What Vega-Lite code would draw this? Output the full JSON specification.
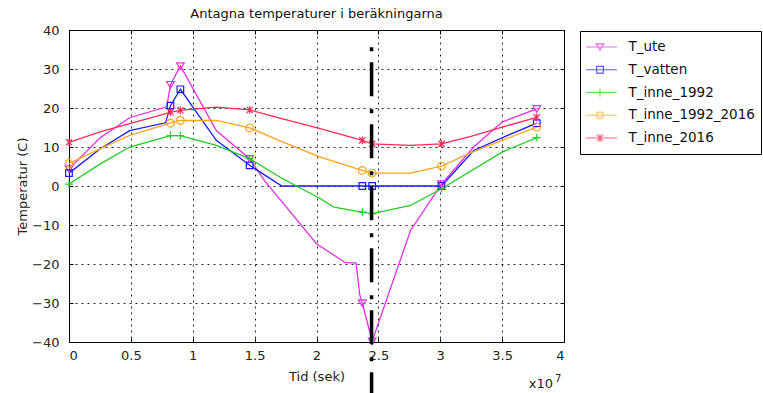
{
  "$schema": "https://vega.github.io/schema/vega-lite/v6.json",
  "width": 495,
  "height": 312,
  "autosize": {"type": "none"},
  "padding": {"left": 69, "top": 30, "right": 199, "bottom": 51},
  "title": {"text": "Antagna temperaturer i beräkningarna", "fontSize": 13, "fontWeight": "normal", "font": "DejaVu Sans", "anchor": "middle", "offset": 3, "color": "#111"},
  "config": {
    "font": "DejaVu Sans",
    "view": {"stroke": "#000", "strokeWidth": 1}
  },
  "datasets": {
    "lines": [
      {"s": "T_ute", "t": 0, "T": 4.4},
      {"s": "T_ute", "t": 2500000, "T": 12.3},
      {"s": "T_ute", "t": 4900000, "T": 17.5},
      {"s": "T_ute", "t": 7900000, "T": 20.3},
      {"s": "T_ute", "t": 8200000, "T": 26.0},
      {"s": "T_ute", "t": 9000000, "T": 30.8},
      {"s": "T_ute", "t": 11900000, "T": 14.2},
      {"s": "T_ute", "t": 14600000, "T": 7.0},
      {"s": "T_ute", "t": 15800000, "T": 1.4},
      {"s": "T_ute", "t": 20000000, "T": -14.8},
      {"s": "T_ute", "t": 22300000, "T": -19.6},
      {"s": "T_ute", "t": 23200000, "T": -19.8},
      {"s": "T_ute", "t": 23500000, "T": -28.0},
      {"s": "T_ute", "t": 23700000, "T": -30.0},
      {"s": "T_ute", "t": 24500000, "T": -39.8},
      {"s": "T_ute", "t": 27600000, "T": -11.4},
      {"s": "T_ute", "t": 30100000, "T": 0.5},
      {"s": "T_ute", "t": 32700000, "T": 10.0},
      {"s": "T_ute", "t": 35000000, "T": 16.4},
      {"s": "T_ute", "t": 37800000, "T": 19.8},

      {"s": "T_vatten", "t": 0, "T": 3.3},
      {"s": "T_vatten", "t": 2500000, "T": 9.5},
      {"s": "T_vatten", "t": 4900000, "T": 14.2},
      {"s": "T_vatten", "t": 7800000, "T": 16.2},
      {"s": "T_vatten", "t": 8200000, "T": 20.6},
      {"s": "T_vatten", "t": 9000000, "T": 24.8},
      {"s": "T_vatten", "t": 11900000, "T": 11.7},
      {"s": "T_vatten", "t": 14600000, "T": 5.3},
      {"s": "T_vatten", "t": 17200000, "T": 0},
      {"s": "T_vatten", "t": 23700000, "T": 0},
      {"s": "T_vatten", "t": 24500000, "T": 0},
      {"s": "T_vatten", "t": 30100000, "T": 0},
      {"s": "T_vatten", "t": 32700000, "T": 9.1},
      {"s": "T_vatten", "t": 35400000, "T": 12.9},
      {"s": "T_vatten", "t": 37800000, "T": 16.1},

      {"s": "T_inne_1992", "t": 0, "T": 0.5},
      {"s": "T_inne_1992", "t": 2500000, "T": 5.6},
      {"s": "T_inne_1992", "t": 4900000, "T": 10.0},
      {"s": "T_inne_1992", "t": 8200000, "T": 12.9},
      {"s": "T_inne_1992", "t": 9000000, "T": 12.9},
      {"s": "T_inne_1992", "t": 11900000, "T": 10.4},
      {"s": "T_inne_1992", "t": 14600000, "T": 7.0},
      {"s": "T_inne_1992", "t": 17200000, "T": 2.0},
      {"s": "T_inne_1992", "t": 20300000, "T": -3.2},
      {"s": "T_inne_1992", "t": 21400000, "T": -5.4},
      {"s": "T_inne_1992", "t": 23700000, "T": -6.7},
      {"s": "T_inne_1992", "t": 24500000, "T": -7.1},
      {"s": "T_inne_1992", "t": 27600000, "T": -5.0},
      {"s": "T_inne_1992", "t": 30100000, "T": -0.7},
      {"s": "T_inne_1992", "t": 35000000, "T": 8.7},
      {"s": "T_inne_1992", "t": 37800000, "T": 12.4},

      {"s": "T_inne_1992_2016", "t": 0, "T": 5.8},
      {"s": "T_inne_1992_2016", "t": 2500000, "T": 9.5},
      {"s": "T_inne_1992_2016", "t": 4900000, "T": 13.0},
      {"s": "T_inne_1992_2016", "t": 8200000, "T": 16.1},
      {"s": "T_inne_1992_2016", "t": 9000000, "T": 16.8},
      {"s": "T_inne_1992_2016", "t": 11900000, "T": 16.8},
      {"s": "T_inne_1992_2016", "t": 14600000, "T": 14.9},
      {"s": "T_inne_1992_2016", "t": 17200000, "T": 11.4},
      {"s": "T_inne_1992_2016", "t": 20300000, "T": 7.4},
      {"s": "T_inne_1992_2016", "t": 23700000, "T": 4.0},
      {"s": "T_inne_1992_2016", "t": 24500000, "T": 3.3},
      {"s": "T_inne_1992_2016", "t": 27600000, "T": 3.3},
      {"s": "T_inne_1992_2016", "t": 30100000, "T": 5.1},
      {"s": "T_inne_1992_2016", "t": 32300000, "T": 8.3},
      {"s": "T_inne_1992_2016", "t": 35000000, "T": 11.7},
      {"s": "T_inne_1992_2016", "t": 37800000, "T": 15.1},

      {"s": "T_inne_2016", "t": 0, "T": 11.2},
      {"s": "T_inne_2016", "t": 2500000, "T": 13.9},
      {"s": "T_inne_2016", "t": 4900000, "T": 16.0},
      {"s": "T_inne_2016", "t": 8200000, "T": 18.9},
      {"s": "T_inne_2016", "t": 9000000, "T": 19.4},
      {"s": "T_inne_2016", "t": 11900000, "T": 20.2},
      {"s": "T_inne_2016", "t": 14600000, "T": 19.5},
      {"s": "T_inne_2016", "t": 17200000, "T": 17.3},
      {"s": "T_inne_2016", "t": 20300000, "T": 14.7},
      {"s": "T_inne_2016", "t": 23700000, "T": 11.7},
      {"s": "T_inne_2016", "t": 24500000, "T": 10.8},
      {"s": "T_inne_2016", "t": 27600000, "T": 10.4},
      {"s": "T_inne_2016", "t": 30100000, "T": 10.8},
      {"s": "T_inne_2016", "t": 32700000, "T": 12.9},
      {"s": "T_inne_2016", "t": 35000000, "T": 15.1},
      {"s": "T_inne_2016", "t": 37800000, "T": 17.6}
    ],
    "markers": [
      {"s": "T_ute", "t": 0, "T": 4.4},
      {"s": "T_ute", "t": 8200000, "T": 26.0},
      {"s": "T_ute", "t": 9000000, "T": 30.8},
      {"s": "T_ute", "t": 14600000, "T": 7.0},
      {"s": "T_ute", "t": 23700000, "T": -30.0},
      {"s": "T_ute", "t": 24500000, "T": -39.8},
      {"s": "T_ute", "t": 30100000, "T": 0.5},
      {"s": "T_ute", "t": 37800000, "T": 19.8},
      {"s": "T_vatten", "t": 0, "T": 3.3},
      {"s": "T_vatten", "t": 8200000, "T": 20.6},
      {"s": "T_vatten", "t": 9000000, "T": 24.8},
      {"s": "T_vatten", "t": 14600000, "T": 5.3},
      {"s": "T_vatten", "t": 23700000, "T": 0},
      {"s": "T_vatten", "t": 24500000, "T": 0},
      {"s": "T_vatten", "t": 30100000, "T": 0},
      {"s": "T_vatten", "t": 37800000, "T": 16.1},
      {"s": "T_inne_1992", "t": 0, "T": 0.5},
      {"s": "T_inne_1992", "t": 8200000, "T": 12.9},
      {"s": "T_inne_1992", "t": 9000000, "T": 12.9},
      {"s": "T_inne_1992", "t": 14600000, "T": 7.0},
      {"s": "T_inne_1992", "t": 23700000, "T": -6.7},
      {"s": "T_inne_1992", "t": 24500000, "T": -7.1},
      {"s": "T_inne_1992", "t": 30100000, "T": -0.7},
      {"s": "T_inne_1992", "t": 37800000, "T": 12.4},
      {"s": "T_inne_1992_2016", "t": 0, "T": 5.8},
      {"s": "T_inne_1992_2016", "t": 8200000, "T": 16.1},
      {"s": "T_inne_1992_2016", "t": 9000000, "T": 16.8},
      {"s": "T_inne_1992_2016", "t": 14600000, "T": 14.9},
      {"s": "T_inne_1992_2016", "t": 23700000, "T": 4.0},
      {"s": "T_inne_1992_2016", "t": 24500000, "T": 3.3},
      {"s": "T_inne_1992_2016", "t": 30100000, "T": 5.1},
      {"s": "T_inne_1992_2016", "t": 37800000, "T": 15.1},
      {"s": "T_inne_2016", "t": 0, "T": 11.2},
      {"s": "T_inne_2016", "t": 8200000, "T": 18.9},
      {"s": "T_inne_2016", "t": 9000000, "T": 19.4},
      {"s": "T_inne_2016", "t": 14600000, "T": 19.5},
      {"s": "T_inne_2016", "t": 23700000, "T": 11.7},
      {"s": "T_inne_2016", "t": 24500000, "T": 10.8},
      {"s": "T_inne_2016", "t": 30100000, "T": 10.8},
      {"s": "T_inne_2016", "t": 37800000, "T": 17.6}
    ],
    "events": [
      {"t": 24450000}
    ]
  },
  "layer": [
    {
      "data": {"name": "lines"},
      "mark": {"type": "line", "strokeWidth": 1.3, "clip": true},
      "encoding": {
        "x": {"field": "t", "type": "quantitative",
          "scale": {"domain": [0, 40000000], "nice": false, "zero": false},
          "axis": {"orient": "bottom", "values": [0, 5000000, 10000000, 15000000, 20000000, 25000000, 30000000, 35000000, 40000000],
            "labelExpr": "format(datum.value / 10000000, '~g')",
            "grid": true, "gridColor": "#000", "gridDash": [2, 4], "gridOpacity": 0.85, "gridWidth": 1,
            "domain": false, "tickSize": -4, "tickColor": "#000", "tickWidth": 1,
            "labelFontSize": 13, "labelColor": "#222", "labelPadding": 11, "labelFont": "DejaVu Sans",
            "title": "Tid (sek)", "titleFontSize": 13, "titleFontWeight": "normal", "titleColor": "#222", "titlePadding": 8, "titleFont": "DejaVu Sans"}},
        "y": {"field": "T", "type": "quantitative",
          "scale": {"domain": [-40, 40], "nice": false, "zero": false},
          "axis": {"orient": "left", "values": [-40, -30, -20, -10, 0, 10, 20, 30, 40],
            "grid": true, "gridColor": "#000", "gridDash": [2, 4], "gridOpacity": 0.85, "gridWidth": 1,
            "domain": false, "tickSize": -4, "tickColor": "#000", "tickWidth": 1,
            "labelFontSize": 13, "labelColor": "#222", "labelPadding": 14, "labelFont": "DejaVu Sans",
            "title": "Temperatur (C)", "titleFontSize": 13, "titleFontWeight": "normal", "titleColor": "#222", "titlePadding": 2, "titleFont": "DejaVu Sans"}},
        "color": {"field": "s", "type": "nominal",
          "scale": {"domain": ["T_ute", "T_vatten", "T_inne_1992", "T_inne_1992_2016", "T_inne_2016"], "range": ["#dd33dd", "#1a1aff", "#22cc22", "#ffa31a", "#ff2a55"]},
          "legend": null}
      }
    },
    {
      "data": {"name": "markers"},
      "mark": {"type": "point", "filled": false, "size": 60, "strokeWidth": 1.2, "opacity": 1},
      "encoding": {
        "x": {"field": "t", "type": "quantitative",
          "axis": {"orient": "top", "values": [0, 5000000, 10000000, 15000000, 20000000, 25000000, 30000000, 35000000, 40000000],
            "labels": false, "grid": false, "domain": false, "tickSize": -4, "tickColor": "#000", "title": null}},
        "y": {"field": "T", "type": "quantitative",
          "axis": {"orient": "right", "values": [-40, -30, -20, -10, 0, 10, 20, 30, 40],
            "labels": false, "grid": false, "domain": false, "tickSize": -4, "tickColor": "#000", "title": null}},
        "color": {"field": "s", "type": "nominal",
          "scale": {"domain": ["T_ute", "T_vatten", "T_inne_1992", "T_inne_1992_2016", "T_inne_2016"], "range": ["#dd33dd", "#1a1aff", "#22cc22", "#ffa31a", "#ff2a55"]},
          "legend": null},
        "shape": {"field": "s", "type": "nominal",
          "scale": {"domain": ["T_ute", "T_vatten", "T_inne_1992", "T_inne_1992_2016", "T_inne_2016"],
            "range": ["M-1,-0.8L1,-0.8L0,0.9Z", "M-0.85,-0.85L0.85,-0.85L0.85,0.85L-0.85,0.85Z", "M-1,0L1,0M0,-1L0,1", "circle", "M-0.8,-0.8L0.8,0.8M-0.8,0.8L0.8,-0.8M0,-1L0,1"]},
          "legend": null}
      }
    },
    {
      "data": {"values": []},
      "mark": {"type": "point", "filled": false, "size": 400, "strokeWidth": 1.2},
      "encoding": {
        "x": {"field": "t", "type": "quantitative", "axis": null},
        "y": {"field": "T", "type": "quantitative", "axis": null},
        "color": {"field": "s", "type": "nominal",
          "scale": {"domain": ["T_ute", "T_vatten", "T_inne_1992", "T_inne_1992_2016", "T_inne_2016"], "range": ["#dd33dd", "#1a1aff", "#22cc22", "#ffa31a", "#ff2a55"]},
          "legend": {"title": null, "orient": "none", "legendX": 511, "legendY": 1,
            "strokeColor": "#000", "fillColor": "#fff", "padding": 6, "clipHeight": 20, "rowPadding": 2.75,
            "symbolSize": 400, "symbolStrokeWidth": 1.2, "symbolOffset": 3, "labelOffset": 17.5,
            "labelFontSize": 13.5, "labelColor": "#111", "labelFont": "DejaVu Sans", "labelLimit": 300}},
        "shape": {"field": "s", "type": "nominal",
          "scale": {"domain": ["T_ute", "T_vatten", "T_inne_1992", "T_inne_1992_2016", "T_inne_2016"],
            "range": ["M-1.7,0L1.7,0M-0.38,-0.32L0.38,-0.32L0,0.34Z", "M-1.7,0L1.7,0M-0.34,-0.34L0.34,-0.34L0.34,0.34L-0.34,0.34Z", "M-1.7,0L1.7,0M0,-0.4L0,0.4", "M-1.7,0L1.7,0M-0.34,0A0.34,0.34,0,1,0,0.34,0A0.34,0.34,0,1,0,-0.34,0", "M-1.7,0L1.7,0M-0.3,-0.3L0.3,0.3M-0.3,0.3L0.3,-0.3M0,-0.4L0,0.4"]},
          "legend": {"title": null, "orient": "none", "legendX": 511, "legendY": 1,
            "strokeColor": "#000", "fillColor": "#fff", "padding": 6, "clipHeight": 20, "rowPadding": 2.75,
            "symbolSize": 400, "symbolStrokeWidth": 1.2, "symbolOffset": 3, "labelOffset": 17.5,
            "labelFontSize": 13.5, "labelColor": "#111", "labelFont": "DejaVu Sans", "labelLimit": 300}}
      }
    },
    {
      "data": {"name": "events"},
      "mark": {"type": "rule", "color": "#000", "strokeWidth": 3.5, "strokeDash": [4, 11, 34, 13], "strokeCap": "butt", "clip": false},
      "encoding": {
        "x": {"field": "t", "type": "quantitative", "axis": null},
        "y": {"datum": 35.6, "type": "quantitative", "axis": null},
        "y2": {"datum": -55}
      }
    },
    {
      "data": {"name": "events"},
      "mark": {"type": "text", "text": "x10", "align": "right", "baseline": "alphabetic", "dx": -11, "dy": 46, "fontSize": 13, "color": "#222", "font": "DejaVu Sans"},
      "encoding": {
        "x": {"datum": 40000000, "type": "quantitative", "axis": null},
        "y": {"datum": -40, "type": "quantitative", "axis": null}
      }
    },
    {
      "data": {"name": "events"},
      "mark": {"type": "text", "text": "7", "align": "left", "baseline": "alphabetic", "dx": -9, "dy": 40, "fontSize": 10, "color": "#222", "font": "DejaVu Sans"},
      "encoding": {
        "x": {"datum": 40000000, "type": "quantitative", "axis": null},
        "y": {"datum": -40, "type": "quantitative", "axis": null}
      }
    }
  ],
  "resolve": {
    "scale": {"color": "independent", "shape": "independent"},
    "axis": {"x": "independent", "y": "independent"}
  }
}
